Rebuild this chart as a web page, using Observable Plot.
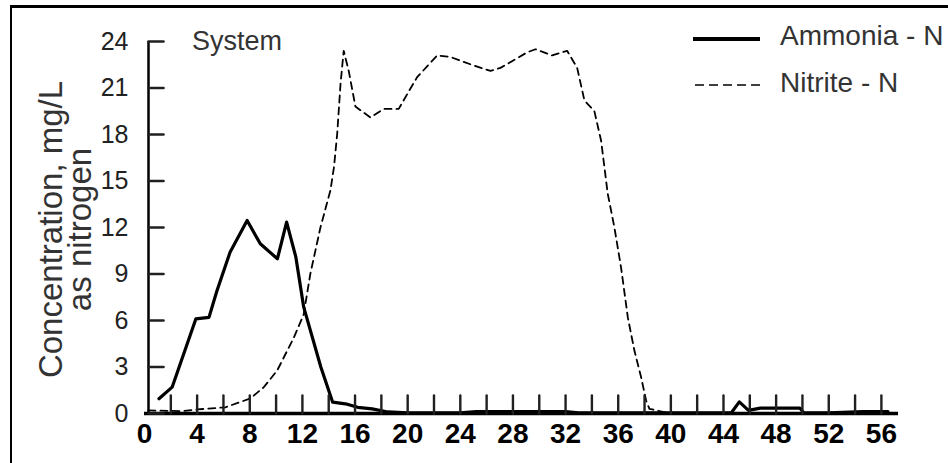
<!DOCTYPE html>
<html>
<head>
<meta charset="utf-8">
<script src="https://cdn.jsdelivr.net/npm/d3@7"></script>
<script src="https://cdn.jsdelivr.net/npm/@observablehq/plot@0.6"></script>
<style>
  html, body { margin: 0; padding: 0; background: #fff; }
  #wrap { position: relative; width: 948px; height: 463px; overflow: hidden; font-family: "Liberation Sans", Arial, sans-serif; }
  #frame { position: absolute; left: 10px; top: 5px; width: 960px; height: 480px; border-left: 2.5px solid #000; border-top: 3px solid #000; box-sizing: border-box; }
  #chart { position: absolute; left: 0; top: 0; }
  #overlay { position: absolute; left: 0; top: 0; pointer-events: none; }
</style>
</head>
<body>
<div id="wrap">
  <div id="frame"></div>
  <div id="chart"></div>
  <svg id="overlay" width="948" height="463" font-family="Liberation Sans, Arial, sans-serif">
    <text x="192" y="50" font-size="27" fill="#333">System</text>
    <line x1="693" x2="760" y1="39" y2="39" stroke="#000" stroke-width="4"></line>
    <text x="780" y="45" font-size="28" fill="#333">Ammonia - N</text>
    <line x1="695" x2="762" y1="85" y2="85" stroke="#000" stroke-width="1.6" stroke-dasharray="9,5"></line>
    <text x="780" y="92" font-size="28" fill="#333">Nitrite - N</text>
  </svg>
</div>
<script>
// Days
const ammoniaDay = [1.1, 2.1, 3.9, 4.9, 5.5, 6.5, 7.8, 8.8, 10.1, 10.8, 11.5, 12.1, 13.4, 14.3, 15.4, 16.2, 17.3, 18.5, 20, 22, 24, 25.2, 28, 32, 33, 36, 40, 44.6, 45.2, 45.9, 46.8, 49.8, 50.1, 52, 54.6, 56.5];
const ammoniaConc = [0.95, 1.7, 6.1, 6.2, 7.9, 10.4, 12.45, 10.95, 9.98, 12.35, 10.1, 6.86, 3.0, 0.73, 0.6, 0.4, 0.3, 0.1, 0.05, 0.05, 0.05, 0.12, 0.12, 0.12, 0.05, 0.05, 0.05, 0.05, 0.75, 0.2, 0.35, 0.35, 0.05, 0.05, 0.12, 0.12];

const nitriteDay = [0.3, 2.9, 4.0, 6.15, 8.05, 9.07, 10.08, 11.35, 12.1, 12.6, 13.37, 14.13, 14.4, 14.64, 14.9, 15.14, 15.52, 16.03, 17.17, 18.18, 19.32, 19.96, 20.72, 22.24, 23.25, 25.02, 26.29, 27.05, 29.08, 29.71, 30.98, 32.12, 32.88, 33.43, 34.19, 34.7, 35.2, 35.71, 36.22, 36.73, 37.23, 37.74, 38.12, 38.37, 40, 56.5];
const nitriteConc = [0.2, 0.15, 0.26, 0.4, 0.97, 1.7, 2.77, 4.9, 6.4, 9.0, 12.0, 14.4, 15.9, 18.0, 21.3, 23.4, 22.1, 19.8, 19.1, 19.65, 19.65, 20.6, 21.7, 23.1, 23.0, 22.45, 22.1, 22.3, 23.3, 23.5, 23.1, 23.4, 22.3, 20.2, 19.5, 17.6, 14.2, 12.0, 9.4, 6.2, 4.06, 2.34, 0.84, 0.3, 0, 0];

const xMinorTicks = d3.range(2, 57, 2);
const xLabelTicks = d3.range(0, 57, 4);
const yTicks = d3.range(0, 25, 3);
const yTitleLine1 = "Concentration, mg/L";
const yTitleLine2 = "as nitrogen";

const ammonia = ammoniaDay.map((d, i) => ({day: d, conc: ammoniaConc[i]}));
const nitrite = nitriteDay.map((d, i) => ({day: d, conc: nitriteConc[i]}));

const font = "Liberation Sans, Arial, sans-serif";
const W = 948, H = 463, ML = 144, MR = 50, MT = 41, MB = 50;
const xDomain = [0, 57.3], yDomain = [0, 24];
const frameW = W - ML - MR, frameH = H - MT - MB;
// tick lengths (pixels) expressed in data units
const xTickLen = 18 * (yDomain[1] - yDomain[0]) / frameH;
const yTickLen = 15 * (xDomain[1] - xDomain[0]) / frameW;

// tick segments as two-point paths (one path per tick)
const xTickSegs = xMinorTicks.flatMap(t => [{t, x: t, y: 0}, {t, x: t, y: xTickLen}]);
const yTickSegs = yTicks.flatMap(t => [{t, x: 0, y: t}, {t, x: yTickLen, y: t}]);

const chart = Plot.plot({
  width: W,
  height: H,
  marginLeft: ML,
  marginRight: MR,
  marginTop: MT,
  marginBottom: MB,
  style: {background: "transparent", overflow: "visible", fontFamily: font},
  x: {domain: xDomain, axis: null},
  y: {domain: yDomain, axis: null},
  marks: [
    Plot.axisX({ticks: xLabelTicks, tickSize: 0, tickPadding: 10, label: null, fontSize: 28, fontWeight: "bold", fontFamily: font, fill: "#000"}),
    Plot.axisY({ticks: yTicks, tickSize: 0, tickPadding: 16, label: null, fontSize: 25, fontFamily: font, fill: "#222"}),
    Plot.ruleX([0], {dx: 4, strokeWidth: 2.5, stroke: "#000"}),
    Plot.line(nitrite, {x: "day", y: "conc", stroke: "#000", strokeWidth: 1.8, strokeDasharray: "7,5"}),
    Plot.line(ammonia, {x: "day", y: "conc", stroke: "#000", strokeWidth: 3.2, strokeLinejoin: "round"}),
    Plot.ruleY([0], {strokeWidth: 3.5, stroke: "#000"}),
    // inward x ticks (every 2 days)
    Plot.line(xTickSegs, {x: "x", y: "y", z: "t", stroke: "#202020", strokeWidth: 2.4}),
    // inward y ticks
    Plot.line(yTickSegs, {x: "x", y: "y", z: "t", dx: 4, stroke: "#202020", strokeWidth: 2.6}),
    Plot.text([yTitleLine1], {text: d => d, frameAnchor: "left", textAnchor: "middle", rotate: -90, dx: -92.6, dy: 2, fontSize: 33, fontFamily: font, fill: "#333"}),
    Plot.text([yTitleLine2], {text: d => d, frameAnchor: "left", textAnchor: "middle", rotate: -90, dx: -63.6, dy: 2, fontSize: 33, fontFamily: font, fill: "#333"})
  ]
});
document.getElementById("chart").appendChild(chart);
</script>
</body>
</html>
